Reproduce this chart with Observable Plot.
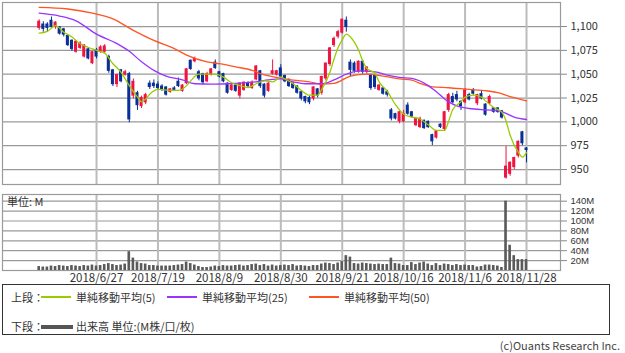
<!DOCTYPE html>
<html><head><meta charset="utf-8">
<script src="https://cdn.jsdelivr.net/npm/d3@7"></script>
<script src="https://cdn.jsdelivr.net/npm/@observablehq/plot@0.6"></script>
<style>
body{margin:0;background:#fff;}
#wrap{position:relative;width:625px;height:353px;font-family:"Noto Sans CJK JP","Noto Sans",sans-serif;color:#333;}
.abs{position:absolute;}
#legend{left:2px;top:284px;width:608px;height:51px;border:1.5px solid #333;box-sizing:border-box;font-size:11px;}
#legend span{position:absolute;white-space:nowrap;line-height:12px;}
#legend .ln{position:absolute;}
</style></head>
<body><div id="wrap">
<div id="topPanel" class="abs" style="left:0;top:0"></div>
<div id="volPanel" class="abs" style="left:0;top:185px"></div>
<div class="abs" style="left:7px;top:195px;font-size:11px;line-height:13px;">単位: M</div>
<div id="legend" class="abs">
<span style="left:8px;top:6px">上段：</span><div class="ln" style="left:38px;top:11px;width:30px;height:1.6px;background:#99cc00"></div><span style="left:73px;top:6px">単純移動平均(5)</span>
<div class="ln" style="left:164px;top:11px;width:30px;height:1.6px;background:#9933ff"></div><span style="left:199px;top:6px">単純移動平均(25)</span>
<div class="ln" style="left:306px;top:11px;width:30px;height:1.6px;background:#ff5522"></div><span style="left:341px;top:6px">単純移動平均(50)</span>
<span style="left:8px;top:35px">下段：</span><div class="ln" style="left:38px;top:40px;width:32px;height:3.5px;background:#555"></div><span style="left:73px;top:35px">出来高 単位:(M株/口/枚)</span>
</div>
<div class="abs" style="right:5px;top:339px;font-size:11px;line-height:13px;color:#444;">(c)Ouants Research Inc.</div>
</div>
<script>
const open  = [1098,1102,1102,1106,1099,1099,1097,1090,1085,1073,1077,1068,1076,1061,1075,1073,1073,1068,1054,1039,1054,1049,1050,1027,1030,1016,1020,1040,1040,1039,1037,1036,1031,1035,1042,1032,1040,1064,1063,1052,1050,1042,1049,1062,1052,1050,1040,1033,1038,1027,1033,1040,1035,1044,1053,1039,1032,1050,1049,1056,1048,1044,1040,1037,1031,1026,1025,1024,1034,1030,1045,1060,1080,1089,1093,1106,1062,1061,1052,1063,1052,1049,1048,1033,1035,1031,1012,1008,1000,1000,1017,1010,996,994,1001,1000,986,983,997,992,1012,1026,1028,1021,1020,1028,1033,1019,1029,1018,1019,1014,1014,1011,941,945,952,964,989,972];
const high  = [1107,1105,1104,1110,1105,1100,1098,1091,1086,1085,1084,1081,1077,1074,1077,1080,1081,1070,1055,1050,1055,1054,1052,1045,1032,1027,1030,1043,1044,1042,1039,1037,1035,1037,1046,1039,1056,1065,1068,1054,1051,1052,1056,1065,1053,1051,1041,1040,1040,1041,1042,1042,1043,1059,1054,1040,1041,1065,1054,1060,1049,1045,1041,1038,1032,1027,1027,1037,1035,1048,1062,1078,1089,1096,1108,1110,1065,1063,1064,1064,1058,1050,1049,1039,1036,1033,1014,1009,1011,1012,1020,1011,1004,1005,1002,1001,987,991,998,1011,1030,1030,1032,1022,1035,1030,1035,1029,1033,1019,1028,1015,1015,1012,974,958,963,980,990,973];
const low   = [1096,1094,1094,1098,1097,1091,1089,1079,1074,1072,1076,1067,1065,1060,1066,1072,1072,1051,1037,1036,1041,1048,999,1024,1012,1014,1018,1034,1035,1033,1032,1027,1030,1032,1036,1031,1039,1054,1062,1043,1039,1041,1048,1055,1046,1041,1029,1032,1031,1024,1032,1036,1034,1043,1035,1025,1031,1049,1048,1046,1041,1036,1034,1029,1022,1019,1018,1022,1025,1028,1043,1058,1078,1087,1092,1094,1047,1051,1051,1050,1050,1033,1034,1032,1028,1026,1001,1002,998,999,1007,1004,995,993,992,993,975,982,993,991,1010,1019,1021,1012,1019,1022,1028,1017,1023,1006,1018,1009,1009,1003,940,943,950,962,975,957];
const close = [1105,1097,1098,1099,1104,1092,1091,1080,1076,1084,1082,1080,1066,1073,1068,1078,1079,1053,1039,1049,1042,1052,1002,1042,1017,1025,1028,1036,1037,1035,1034,1028,1034,1033,1037,1038,1055,1055,1066,1045,1041,1050,1055,1056,1047,1042,1030,1038,1032,1040,1041,1037,1041,1058,1037,1027,1040,1053,1053,1047,1042,1037,1035,1030,1024,1021,1020,1036,1027,1047,1061,1077,1087,1094,1107,1099,1054,1053,1063,1052,1057,1035,1036,1038,1029,1028,1003,1003,1010,1008,1008,1005,1003,1003,993,994,979,990,994,1010,1028,1020,1023,1016,1033,1023,1029,1028,1024,1007,1026,1010,1010,1004,953,957,962,979,977,970];
const volume = [8,7,7,9,8,10,9,8,10,9,8,10,9,11,9,10,12,14,12,10,11,13,38,25,17,14,13,10,10,9,9,9,9,10,11,12,17,14,11,8,6,6,7,9,8,10,9,9,10,11,9,10,12,13,10,12,9,11,9,10,11,10,12,9,10,9,8,10,10,13,15,14,12,15,18,30,27,14,13,15,14,13,12,13,12,12,25,14,13,10,10,16,12,15,17,13,10,14,10,13,12,10,12,10,11,10,10,7,8,11,11,10,9,6,140,51,30,22,22,22];
const ma5Idx = [0,2,4,6,8,10,12,14,16,18,20,22,24,25,26,27,29,32,34,36,37,39,41,43,45,47,49,51,53,55,57,59,60,62,64,66,68,69,71,72,73,74,75,76,78,79,80,82,83,85,87,89,91,93,95,97,99,100,101,103,104,106,108,109,111,113,114,115,117,118,119];
const ma5Val = [1093,1095,1101,1094,1089,1082,1078,1075,1072,1061,1052,1038,1026,1021,1024,1029,1034,1033,1033,1038,1043,1050,1050,1050,1047,1041,1038,1036,1040,1043,1042,1047,1045,1040,1033,1028,1028,1034,1052,1066,1078,1086,1092,1089,1075,1064,1056,1051,1042,1032,1018,1008,1005,1003,997,991,991,1001,1013,1021,1026,1028,1026,1022,1015,1010,1001,986,968,963,968];
const ma25Idx = [0,5,9,14,19,22,25,28,31,35,38,42,46,50,53,56,59,62,65,69,72,75,78,82,85,88,91,95,97,100,102,105,109,112,114,116,119];
const ma25Val = [1114,1111,1106,1092,1082,1074,1063,1054,1048,1044,1040,1039.5,1040,1041,1042,1044,1045,1042,1040,1040,1044,1050,1053.5,1052.5,1049,1046.6,1045.5,1038,1031.6,1021,1016.7,1014,1012.6,1011.9,1009,1005,1002.5];
const ma50Idx = [0,7,13,18,23,28,33,36,41,44,48,52,54,58,62,66,69,72,76,80,84,88,91,93,96,100,105,109,112,115,119];
const ma50Val = [1120,1118.4,1114,1108,1096,1085.4,1076.8,1070,1063,1061,1057.7,1054,1050.7,1046.6,1043.8,1042,1039.6,1040.3,1048,1050,1048,1045,1043.8,1040.3,1036.8,1035.8,1034,1032.7,1030.6,1026.4,1022];
const tickIdx = [14,29,44,59,74,89,104,119];
const tickLabels = ["2018/6/27","2018/7/19","2018/8/9","2018/8/30","2018/9/21","2018/10/16","2018/11/6","2018/11/28"];
const priceTicks = [950,975,1000,1025,1050,1075,1100];
const volTicks = [20,40,60,80,100,120,140];

const candles = open.map((o,i)=>({i,o,h:high[i],l:low[i],c:close[i],up:close[i]>=o}));
const vols = volume.map((v,i)=>({i,v}));
const ma5 = ma5Idx.map((x,k)=>({x,y:ma5Val[k]}));
const ma25 = ma25Idx.map((x,k)=>({x,y:ma25Val[k]}));
const ma50 = ma50Idx.map((x,k)=>({x,y:ma50Val[k]}));
const RED="#f01440", BLUE="#0a2f96";
const xDom=[-8.96,127.3];
const font={fontFamily:"'Noto Sans CJK JP','Noto Sans',sans-serif",fontSize:"11px",color:"#333",background:"transparent",overflow:"visible"};

const priceChart = Plot.plot({
  width:625,height:186,marginLeft:2,marginRight:65,marginTop:2,marginBottom:2,
  style:font,
  x:{type:"linear",domain:xDom,axis:null},
  y:{domain:[934.3,1125.2],axis:null},
  marks:[
    Plot.gridY(priceTicks,{stroke:"#9a9a9a",strokeOpacity:1,strokeWidth:1.2}),
    Plot.gridX(tickIdx,{stroke:"#bcbcbc",strokeOpacity:1,strokeWidth:2}),
    Plot.frame({stroke:"#9a9a9a",strokeWidth:1.2}),
    Plot.axisY(priceTicks,{anchor:"right",label:null,tickSize:6,tickPadding:4,tickFormat:d3.format(","),stroke:"#888"}),
    Plot.ruleX(candles,{x:"i",y1:"l",y2:"h",stroke:d=>d.up?RED:BLUE,strokeWidth:1}),
    Plot.rect(candles,{x1:d=>d.i-0.37,x2:d=>d.i+0.37,y1:d=>Math.min(d.o,d.c),y2:d=>Math.max(d.o,d.c)+0.6,fill:d=>d.up?RED:BLUE}),
    Plot.line(ma50,{x:"x",y:"y",stroke:"#ff5522",strokeWidth:1.3,curve:"monotone-x"}),
    Plot.line(ma25,{x:"x",y:"y",stroke:"#9933ff",strokeWidth:1.3,curve:"monotone-x"}),
    Plot.line(ma5,{x:"x",y:"y",stroke:"#99cc00",strokeWidth:1.3,curve:"monotone-x"})
  ]
});
document.getElementById("topPanel").append(priceChart);

const volChart = Plot.plot({
  width:625,height:100,marginLeft:2,marginRight:65,marginTop:9,marginBottom:15,
  style:font,
  x:{type:"linear",domain:xDom,axis:null},
  y:{domain:[0,153.5],axis:null},
  marks:[
    Plot.gridY(volTicks,{stroke:"#9a9a9a",strokeOpacity:1,strokeWidth:1.2}),
    Plot.gridX(tickIdx,{stroke:"#bcbcbc",strokeOpacity:1,strokeWidth:2}),
    Plot.frame({stroke:"#9a9a9a",strokeWidth:1.2}),
    Plot.axisY(volTicks,{anchor:"right",label:null,tickSize:6,tickPadding:4,tickFormat:d=>d+"M",stroke:"#888",fontSize:9.5,fontFamily:"'Liberation Sans',sans-serif"}),
    Plot.axisX(tickIdx,{anchor:"bottom",label:null,tickSize:0,tickPadding:3,tickFormat:d=>tickLabels[tickIdx.indexOf(d)],fontSize:11.5}),
    Plot.rect(vols,{x1:d=>d.i-0.32,x2:d=>d.i+0.32,y1:0,y2:"v",fill:"#5a5a5a"})
  ]
});
document.getElementById("volPanel").append(volChart);
</script>
</body></html>
